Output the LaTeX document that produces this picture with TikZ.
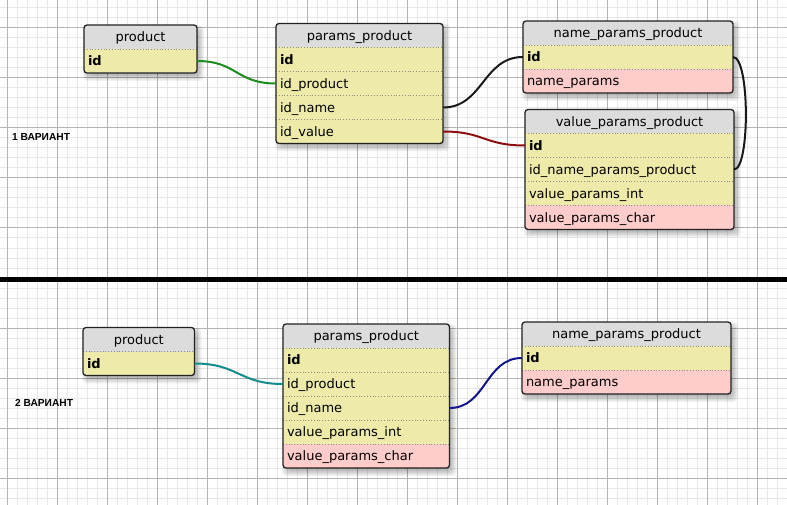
\documentclass[tikz,border=0pt]{standalone}
\usepackage{fontspec}
\setmainfont{DejaVu Sans}
\newfontfamily\labfont{Liberation Sans}
\usetikzlibrary{calc}
\definecolor{hdrgray}{RGB}{220,220,220}
\definecolor{yel}{RGB}{238,235,170}
\definecolor{pnk}{RGB}{255,204,204}
\definecolor{gridminor}{RGB}{232,232,232}
\definecolor{gridmajor}{RGB}{180,180,180}
\definecolor{cgreen}{RGB}{30,140,30}
\definecolor{cred}{RGB}{140,15,15}
\definecolor{cteal}{RGB}{20,140,140}
\definecolor{cnavy}{RGB}{20,20,140}
\definecolor{bord}{RGB}{34,34,34}
\tikzset{
 cell/.style={draw=none, inner xsep=4pt, inner ysep=0pt, minimum height=24pt, text height=12pt, text depth=2.6pt, font=\fontsize{13}{15}\selectfont, outer sep=0pt},
 hdrcell/.style={cell, fill=hdrgray, align=center},
 rowcell/.style={cell, align=left},
 sepline/.style={draw=black!45, line width=0.8pt, dotted},
 tabborder/.style={draw=bord, line width=1.3pt, rounded corners=3pt},
 link/.style={line width=2pt},
 lab/.style={font=\labfont\bfseries\fontsize{10.2}{12}\selectfont, inner sep=0pt, anchor=west},
 gminor/.style={draw=gridminor, line width=1pt},
 gmajor/.style={draw=gridmajor, line width=1pt},
}
\newcommand\dbtab[7]{%
 \pgfmathsetmacro\tabh{24+24*#6}%
 \pgfmathsetmacro\tw{#4-8}%
 \foreach \e in {-2,...,4}{\fill[black,opacity=0.045,rounded corners=4pt] (#2+3-\e,#3+4-\e) rectangle (#2+#4+3+\e,#3+\tabh+4+\e);}
 \begin{scope}
  \clip[rounded corners=3pt] (#2,#3) rectangle ++(#4,\tabh);
  \node[hdrcell, minimum width=#4pt] (#1-h) at (#2+#4/2,#3+12) {#5};
  \foreach \txt/\col [count=\i] in {#7}{
    \node[rowcell, fill=\col, text width=\tw pt] (#1-\i) at (#2+#4/2,#3+12+24*\i) {\txt};
    \draw[sepline] (#2,#3+24*\i) -- ++(#4,0);
  }
 \end{scope}
 \draw[tabborder] (#2,#3) rectangle ++(#4,\tabh);
}
\begin{document}
\begin{tikzpicture}[x={(1pt,0)}, y={(0,-1pt)}]
\useasboundingbox (0,0) rectangle (787,505);
\fill[white] (0,0) rectangle (787,505);
\foreach \x in {17,27,...,787} \draw[gminor] (\x,0) -- (\x,505);
\draw[gminor] (7,0) -- (7,505);
\foreach \y in {8,18,...,498} \draw[gminor] (0,\y) -- (787,\y);
\foreach \x in {7,57,...,757} \draw[gmajor] (\x,0) -- (\x,505);
\foreach \y in {28,78,...,478} \draw[gmajor] (0,\y) -- (787,\y);
\draw[line width=5pt] (0,279.5) -- (787,279.5);

\node[lab] (v1) at (12,136.5) {1 ВАРИАНТ};
\node[lab] (v2) at (15,402.5) {2 ВАРИАНТ};

\dbtab{t1a}{84}{25}{113}{product}{1}{\textbf{id}/yel}
\dbtab{t1b}{276}{23.5}{167}{params\_product}{4}{\textbf{id}/yel, id\_product/yel, id\_name/yel, id\_value/yel}
\dbtab{t1c}{523}{21}{210}{name\_params\_product}{2}{\textbf{id}/yel, name\_params/pnk}
\dbtab{t1d}{525}{109.5}{209}{value\_params\_product}{4}{\textbf{id}/yel, id\_name\_params\_product/yel, value\_params\_int/yel, value\_params\_char/pnk}
\dbtab{t2a}{83}{327.5}{111.5}{product}{1}{\textbf{id}/yel}
\dbtab{t2b}{283}{324}{166.5}{params\_product}{5}{\textbf{id}/yel, id\_product/yel, id\_name/yel, value\_params\_int/yel, value\_params\_char/pnk}
\dbtab{t2c}{522}{322}{209}{name\_params\_product}{2}{\textbf{id}/yel, name\_params/pnk}

\draw[link, cgreen] (t1a-1.east) .. controls +(40,0) and +(-40,0) .. (t1b-2.west);
\draw[link, black!90] (t1b-3.east) .. controls +(40,0) and +(-40,0) .. (t1c-1.west);
\draw[link, cred] (t1b-4.east) .. controls +(41,0) and +(-41,0) .. (t1d-1.west);
\draw[link, black!90] (t1c-1.east) .. controls +(17,0) and +(16,0) .. (t1d-2.east);
\draw[link, cteal] (t2a-1.east) .. controls +(44,0) and +(-44,0) .. (t2b-2.west);
\draw[link, cnavy] (t2b-3.east) .. controls +(37,0) and +(-37,0) .. (t2c-1.west);
\end{tikzpicture}
\end{document}
